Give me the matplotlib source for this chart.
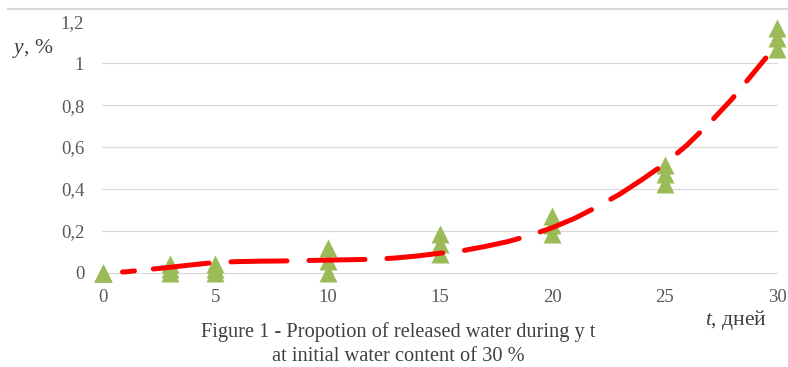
import matplotlib
matplotlib.use("Agg")
import matplotlib.pyplot as plt
from matplotlib.lines import Line2D

plt.rcParams["font.family"] = ["Liberation Serif", "DejaVu Serif"]
plt.rcParams["mathtext.fontset"] = "custom"
plt.rcParams["mathtext.it"] = "Liberation Serif:italic"
plt.rcParams["mathtext.rm"] = "Liberation Serif"
plt.rcParams["lines.scale_dashes"] = False

# Measured share of released water (three replicates per day)
days = [0, 3, 5, 10, 15, 20, 25, 30]
rep1 = [0.0, 0.0, 0.0, 0.0, 0.09, 0.185, 0.425, 1.07]
rep2 = [0.0, 0.02, 0.02, 0.055, 0.135, 0.23, 0.47, 1.12]
rep3 = [0.0, 0.04, 0.04, 0.12, 0.185, 0.27, 0.515, 1.17]

# Trend line values by day
trend_t = list(range(0, 31))
trend_y = [0.0, 0.004, 0.015, 0.026, 0.038, 0.049, 0.053, 0.055, 0.056, 0.058,
           0.060, 0.062, 0.064, 0.070, 0.080, 0.093, 0.105, 0.125, 0.148, 0.178,
           0.215, 0.260, 0.315, 0.375, 0.445, 0.520, 0.610, 0.715, 0.830, 0.960,
           1.090]

x_ticks = [0, 5, 10, 15, 20, 25, 30]
y_ticks = [0, 0.2, 0.4, 0.6, 0.8, 1.0, 1.2]
y_tick_labels = ["0", "0,2", "0,4", "0,6", "0,8", "1", "1,2"]

W, H = 788, 367
fig = plt.figure(figsize=(W / 100, H / 100), dpi=100)
fig.patch.set_facecolor("white")

left, right = 103, 777
y0, y_top = 272.7, 21.4
ax = fig.add_axes([left / W, (H - y0) / H, (right - left) / W, (y0 - y_top) / H])
ax.set_xlim(0, 30)
ax.set_ylim(0, 1.2)
for s in ax.spines.values():
    s.set_visible(False)
ax.set_facecolor("none")

# horizontal gridlines (no line at the top value)
for v in y_ticks[:-1]:
    ax.axhline(v, xmin=-0.0015, xmax=1.0, color="#d9d9d9", lw=0.9, zorder=0, clip_on=False)

ax.set_xticks(x_ticks)
ax.set_xticklabels([str(v) for v in x_ticks])
ax.set_yticks(y_ticks)
ax.set_yticklabels(y_tick_labels)
ax.tick_params(axis="both", length=0, labelsize=13.5, labelcolor="#595959")
ax.tick_params(axis="y", pad=13.5)
ax.tick_params(axis="x", pad=12)

# replicate markers
green = "#9bbb59"
for reps in (rep1, rep2, rep3):
    ax.plot(days, reps, linestyle="none", marker="^", ms=13, mec="none",
            mfc=green, clip_on=False, zorder=3)

# dashed trend line, drawn in two pieces with different dash lengths
px = 0.72  # points per pixel at 100 dpi
seq1 = [12, 19] + [56, 22] * 9
seq1[-1] += 19.5
seq1_pt = [v * px for v in seq1]
off1 = (sum(seq1) - 19.5) * px
seq2 = [30, 20] * 6
off2 = (sum(seq2) - 16.7) * px
seq2_pt = [v * px for v in seq2]

ax.plot(trend_t[:26], trend_y[:26], color="#ff0000", lw=3.6,
        linestyle=(off1, seq1_pt), dash_capstyle="round",
        solid_capstyle="round", zorder=4, clip_on=False)
ax.plot(trend_t[25:], trend_y[25:], color="#ff0000", lw=3.6,
        linestyle=(off2, seq2_pt), dash_capstyle="round",
        solid_capstyle="round", zorder=4, clip_on=False)

# axis names
fig.text(12 / W, 1 - 53 / H, r"$y$, %", fontsize=15.5, color="#404040",
         ha="left", va="baseline")
fig.text(705 / W, 1 - 325 / H, r"$t$, дней", fontsize=15.5, color="#404040",
         ha="left", va="baseline")

# caption
fig.text(398 / W, 1 - 337 / H, "Figure 1 - Propotion of released water during y t",
         fontsize=14.7, color="#404040", ha="center", va="baseline")
fig.text(398 / W, 1 - 361 / H, "at initial water content of 30 %",
         fontsize=14.7, color="#404040", ha="center", va="baseline")

# thin frame line across the top
fig.add_artist(Line2D([8 / W, 1.0], [1 - 9 / H, 1 - 9 / H], color="#d9d9d9", lw=1.6))

fig.savefig("out.png", dpi=100, facecolor="white")
